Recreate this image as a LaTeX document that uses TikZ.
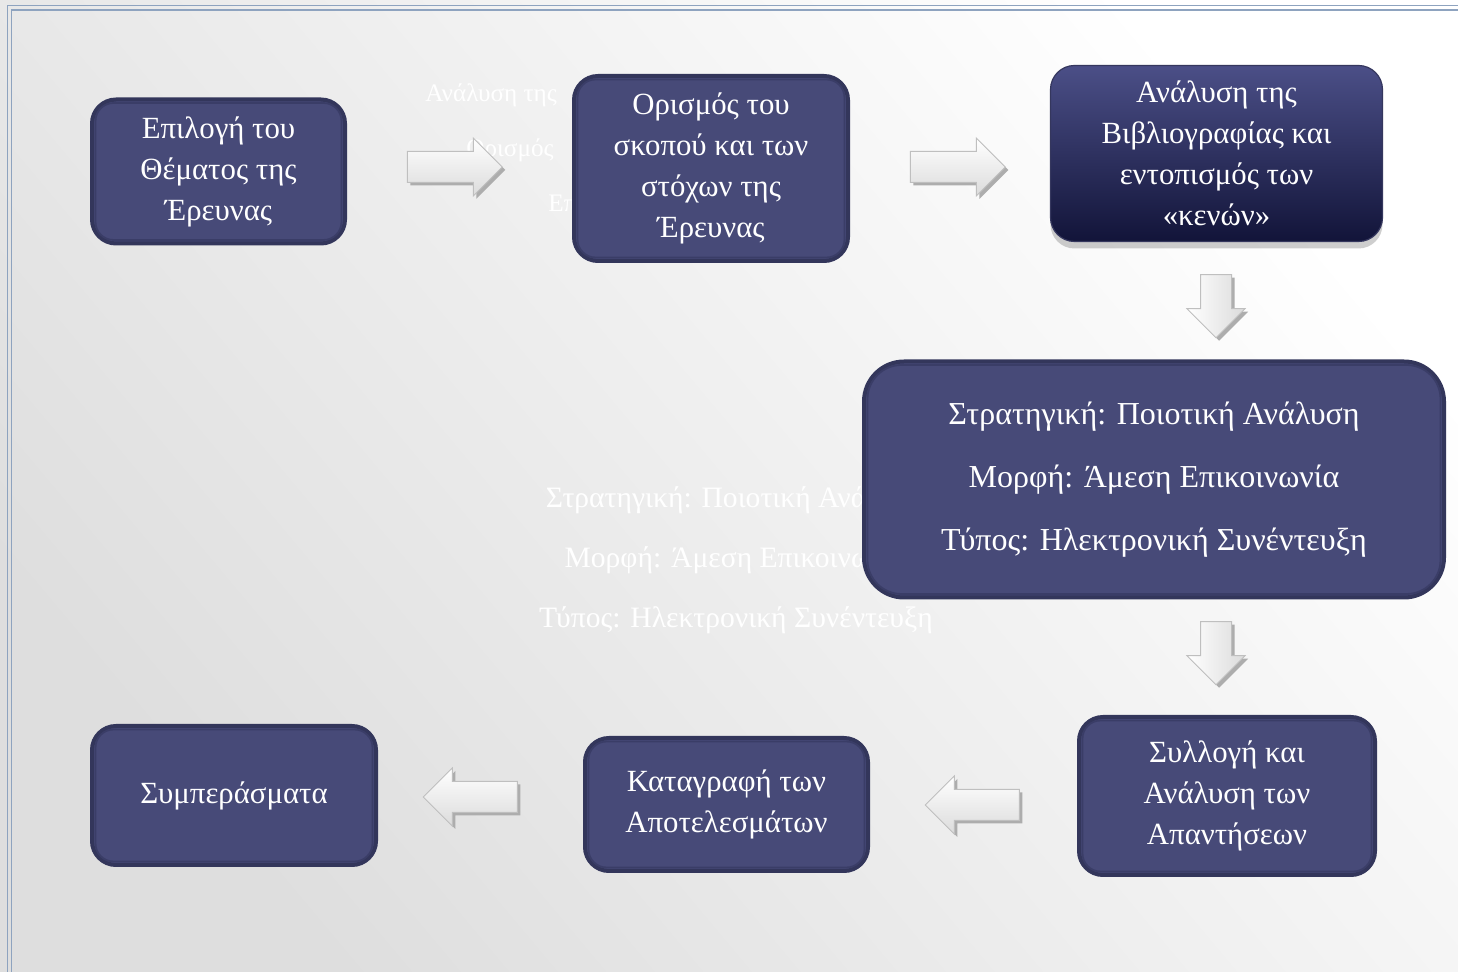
\documentclass[tikz,border=0pt]{standalone}
\usepackage{fontspec}
\setmainfont{Liberation Serif}
\usetikzlibrary{positioning,shapes.arrows,shadows}

\definecolor{boxfill}{HTML}{474A78}
\definecolor{boxline}{HTML}{33365B}
\definecolor{boxinner}{HTML}{3A3D67}
\definecolor{navytop}{HTML}{4B4F87}
\definecolor{navybot}{HTML}{121439}
\definecolor{frameblue}{HTML}{8EA3BF}

\begin{document}
\begin{tikzpicture}[x=0.5pt, y=-0.5pt,
  box/.style={draw=boxline, line width=2pt, fill=boxfill, rounded corners=12pt, text=white,
    align=center, inner sep=0pt, font=\fontsize{15.4}{20.5}\selectfont},
  inbox/.style={draw=boxinner, line width=0.9pt, rounded corners=9pt},
  navy/.style={top color=navytop, bottom color=navybot, draw=navytop!70!black, line width=0.6pt,
    rounded corners=12pt, text=white, align=center, inner sep=0pt, font=\fontsize{15.4}{20.5}\selectfont,
    drop shadow={shadow xshift=0pt, shadow yshift=-3.5pt, fill=black!55, opacity=0.35}},
  blk/.style={single arrow, draw=black!25, line width=0.5pt, single arrow head extend=6.75pt,
    drop shadow={shadow xshift=1.5pt, shadow yshift=-1.5pt, fill=black!32, opacity=1}},
  rarr/.style={blk, inner xsep=0pt, inner ysep=7.5pt, minimum height=47.5pt, top color=white, bottom color=black!14},
  larr/.style={blk, inner xsep=0pt, inner ysep=7.5pt, minimum height=47pt, shape border rotate=180,
    top color=white, bottom color=black!14},
  darr/.style={blk, inner xsep=7.5pt, inner ysep=0pt, minimum height=31.5pt, shape border rotate=270,
    left color=white, right color=black!14},
  ghost/.style={text=white, inner sep=0pt}
]
\useasboundingbox (0,0) rectangle (1458,972);
\shade[top color=white, bottom color=black!13, shading angle=-50] (0,0) rectangle (1458,972);
\draw[frameblue, line width=0.9pt] (1458,5.5) -| (7.5,972);
\draw[frameblue, line width=0.9pt] (1458,10) -| (11.5,972);

% faded text behind the boxes
\node[ghost, anchor=west, font=\fontsize{12.6}{15}\selectfont] (g1) at (425,95) {Ανάλυση της};
\node[ghost, anchor=west, font=\fontsize{12.6}{15}\selectfont] (g2) at (466,150) {Ορισμός};
\node[ghost, anchor=west, font=\fontsize{12.6}{15}\selectfont] (g3) at (548,205) {Επιλογή};
\node[ghost, font=\fontsize{14.8}{18}\selectfont] (g4) at (736,500) {Στρατηγική: Ποιοτική Ανάλυση};
\node[ghost, font=\fontsize{14.8}{18}\selectfont] (g5) at (736,560) {Μορφή: Άμεση Επικοινωνία};
\node[ghost, font=\fontsize{14.8}{18}\selectfont] (g6) at (736,620) {Τύπος: Ηλεκτρονική Συνέντευξη};

\node[box, minimum width=126.5pt, minimum height=72pt] (n1) at (218.5,171.5) {Επιλογή του\\Θέματος της\\Έρευνας};
\node[box, minimum width=137pt, minimum height=92.5pt] (n2) at (711,168.5) {Ορισμός του\\σκοπού και των\\στόχων της\\Έρευνας};
\node[navy, minimum width=166pt, minimum height=88pt] (n3) at (1216.5,153.5) {Ανάλυση της\\Βιβλιογραφίας και\\εντοπισμός των\\«κενών»};
\node[box, rounded corners=20pt, minimum width=290pt, minimum height=118pt,
  font=\fontsize{16}{31.5}\selectfont] (n4) at (1154,479.5)
  {Στρατηγική: Ποιοτική Ανάλυση\\Μορφή: Άμεση Επικοινωνία\\Τύπος: Ηλεκτρονική Συνέντευξη};
\node[box, minimum width=148pt, minimum height=79pt] (n5) at (1227,796) {Συλλογή και\\Ανάλυση των\\Απαντήσεων};
\node[box, minimum width=141.5pt, minimum height=66.5pt] (n6) at (726.5,804.5) {Καταγραφή των\\Αποτελεσμάτων};
\node[box, minimum width=142pt, minimum height=69.5pt] (n7) at (234,795.5) {Συμπεράσματα};

\foreach \n in {n1,n2,n5,n6,n7}
  \draw[inbox] ([xshift=2.75pt,yshift=-2.75pt]\n.north west) rectangle ([xshift=-2.75pt,yshift=2.75pt]\n.south east);
\draw[inbox, rounded corners=17pt] ([xshift=2.75pt,yshift=-2.75pt]n4.north west) rectangle ([xshift=-2.75pt,yshift=2.75pt]n4.south east);

\node[rarr] (a12) at (447,167) {};
\node[rarr] (a23) at (950,167) {};
\node[darr] (a34) at (1216,298.5) {};
\node[darr] (a45) at (1216,645.5) {};
\node[larr] (a56) at (980,805) {};
\node[larr] (a67) at (478,797) {};

\end{tikzpicture}
\end{document}
